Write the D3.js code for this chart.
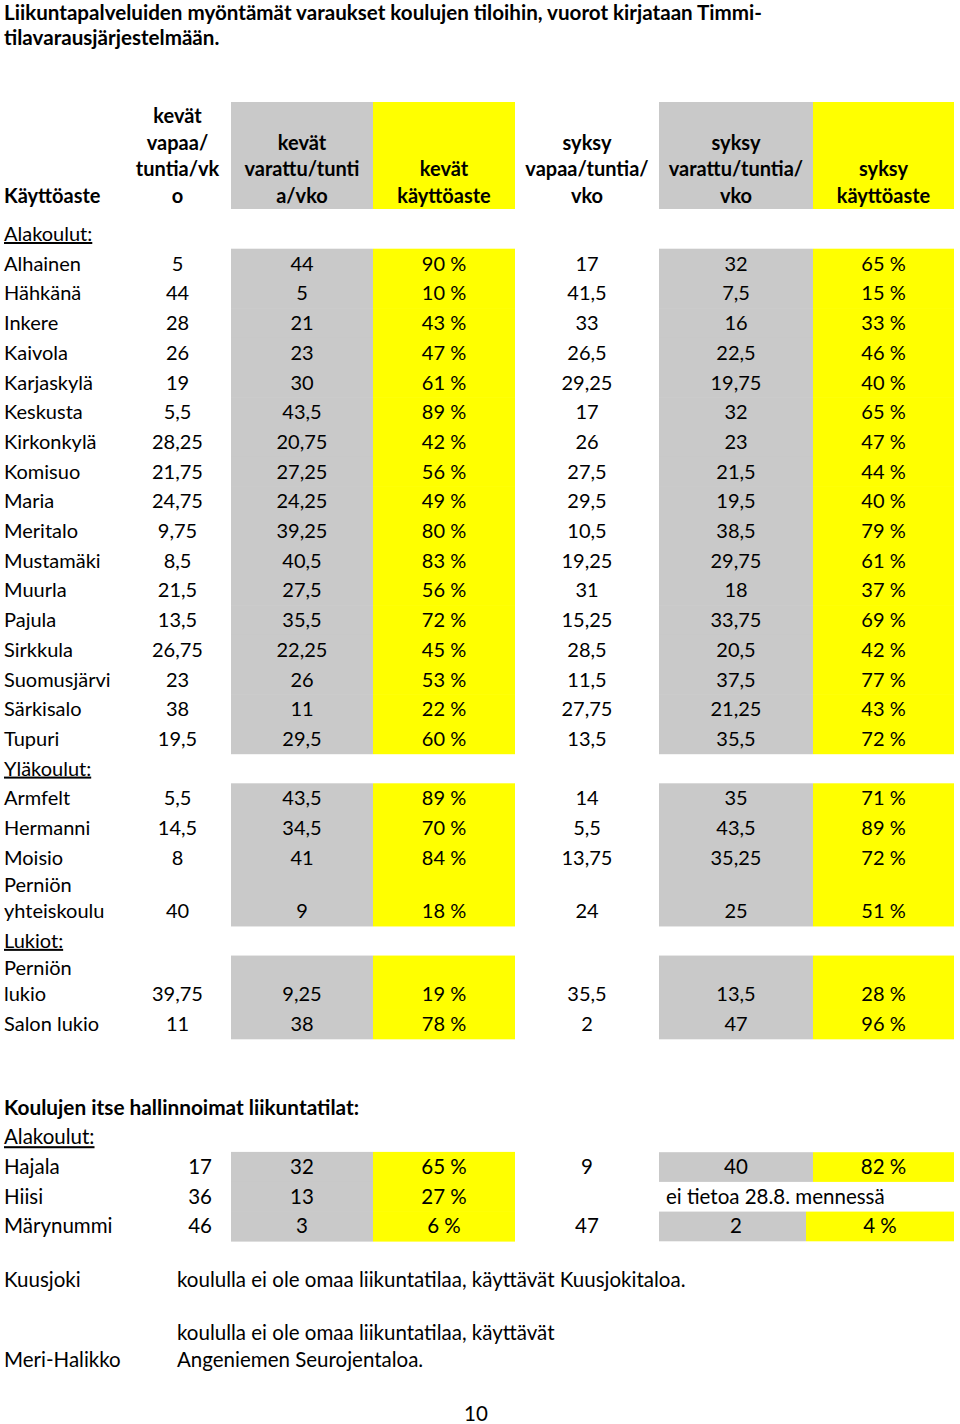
<!DOCTYPE html>
<html><head><meta charset="utf-8">
<script src="https://cdn.jsdelivr.net/npm/d3@7"></script>
<style>body{margin:0;background:#fff}svg{display:block}text{font-family:Lato,"Open Sans",sans-serif;fill:#000}</style>
</head><body><div id="c"></div>
<script>
const title = ["Liikuntapalveluiden myöntämät varaukset koulujen tiloihin, vuorot kirjataan Timmi-","tilavarausjärjestelmään."];
const headers = [["Käyttöaste"],["kevät","vapaa/","tuntia/vk","o"],["kevät","varattu/tunti","a/vko"],["kevät","käyttöaste"],["syksy","vapaa/tuntia/","vko"],["syksy","varattu/tuntia/","vko"],["syksy","käyttöaste"]];
// rows: group label rows have null values
const rowLabels = ["Alakoulut:","Alhainen","Hähkänä","Inkere","Kaivola","Karjaskylä","Keskusta","Kirkonkylä","Komisuo","Maria","Meritalo","Mustamäki","Muurla","Pajula","Sirkkula","Suomusjärvi","Särkisalo","Tupuri","Yläkoulut:","Armfelt","Hermanni","Moisio","Perniön\nyhteiskoulu","Lukiot:","Perniön\nlukio","Salon lukio"];
const kevatVapaa   = [null,5,44,28,26,19,5.5,28.25,21.75,24.75,9.75,8.5,21.5,13.5,26.75,23,38,19.5,null,5.5,14.5,8,40,null,39.75,11];
const kevatVarattu = [null,44,5,21,23,30,43.5,20.75,27.25,24.25,39.25,40.5,27.5,35.5,22.25,26,11,29.5,null,43.5,34.5,41,9,null,9.25,38];
const kevatKaytto  = [null,90,10,43,47,61,89,42,56,49,80,83,56,72,45,53,22,60,null,89,70,84,18,null,19,78];
const syksyVapaa   = [null,17,41.5,33,26.5,29.25,17,26,27.5,29.5,10.5,19.25,31,15.25,28.5,11.5,27.75,13.5,null,14,5.5,13.75,24,null,35.5,2];
const syksyVarattu = [null,32,7.5,16,22.5,19.75,32,23,21.5,19.5,38.5,29.75,18,33.75,20.5,37.5,21.25,35.5,null,35,43.5,35.25,25,null,13.5,47];
const syksyKaytto  = [null,65,15,33,46,40,65,47,44,40,79,61,37,69,42,77,43,72,null,71,89,72,51,null,28,96];

const section2Title = "Koulujen itse hallinnoimat liikuntatilat:";
const s2Labels = ["Alakoulut:","Hajala","Hiisi","Märynummi"];
const s2KevatVapaa = [null,17,36,46];
const s2KevatVarattu = [null,32,13,3];
const s2KevatKaytto = [null,65,27,6];
const s2SyksyVapaa = [null,9,null,47];
const s2SyksyVarattu = [null,40,null,2];
const s2SyksyKaytto = [null,82,null,4];
const s2Note = [null,null,"ei tietoa 28.8. mennessä",null];
const notes = [["Kuusjoki",["koululla ei ole omaa liikuntatilaa, käyttävät Kuusjokitaloa."]],["Meri-Halikko",["koululla ei ole omaa liikuntatilaa, käyttävät","Angeniemen Seurojentaloa."]]];
const pageNumber = "10";

const W=960,H=1424;
const svg=d3.select("#c").append("svg").attr("width",W).attr("height",H);
const loc=d3.formatLocale({decimal:",",thousands:" ",grouping:[3],currency:["","€"]});
const fmtNum=v=>v==null?"":loc.format(",.2~f")(v);
const fmtPct=v=>v==null?"":v+" %";

const cols=["label","kv","kva","kk","sv","sva","sk"];
const colLeft=d3.scaleOrdinal().domain(cols).range([0,124,231,373,515,659,813]);
const colRight=d3.scaleOrdinal().domain(cols).range([124,231,373,515,659,813,954]);
const colFill=d3.scaleOrdinal().domain(cols).range(["none","none","#c9c9c9","#ffff00","none","#c9c9c9","#ffff00"]);
const cx=c=>(colLeft(c)+colRight(c))/2;
const FS=20, FS2=20.5, LH=26.6;

// title
svg.selectAll("text.title").data(title).join("text").attr("class","title")
  .attr("x",4).attr("y",(d,i)=>20+i*25).attr("font-size",20.6).attr("font-weight","bold").text(d=>d);

// header
const hTop=102,hBot=209;
cols.forEach(c=>{ if(colFill(c)!=="none") svg.append("rect").attr("x",colLeft(c)).attr("y",hTop).attr("width",colRight(c)-colLeft(c)).attr("height",hBot-hTop).attr("fill",colFill(c)); });
headers.forEach((lines,ci)=>{
  const c=cols[ci]; const n=lines.length;
  lines.forEach((t,li)=>{
    svg.append("text").attr("x",ci===0?4:cx(c)).attr("y",hBot-6-(n-1-li)*LH).attr("text-anchor",ci===0?"start":"middle")
      .attr("font-size",FS).attr("font-weight","bold").text(t);
  });
});

// row layout
const units=rowLabels.map(l=>l.includes("\n")?1.8:1);
const cum=[0]; units.forEach(u=>cum.push(cum[cum.length-1]+u));
const y=d3.scaleLinear().domain([0,1]).range([219.3,249]);
const series={kv:kevatVapaa,kva:kevatVarattu,kk:kevatKaytto,sv:syksyVapaa,sva:syksyVarattu,sk:syksyKaytto};
rowLabels.forEach((lab,i)=>{
  const top=y(cum[i]),bot=y(cum[i+1]);
  const isGroup=kevatVapaa[i]==null;
  if(!isGroup){
    ["kva","kk","sva","sk"].forEach(c=>svg.append("rect").attr("x",colLeft(c)).attr("y",top-0.3).attr("width",colRight(c)-colLeft(c)).attr("height",bot-top+0.6).attr("fill",colFill(c)));
  }
});
rowLabels.forEach((lab,i)=>{
  const bot=y(cum[i+1]);
  const isGroup=kevatVapaa[i]==null;
  const lines=lab.split("\n");
  lines.forEach((t,li)=>{
    svg.append("text").attr("x",4).attr("y",bot-8-(lines.length-1-li)*LH).attr("font-size",FS)
      .attr("text-decoration",isGroup?"underline":null).text(t);
  });
  if(!isGroup){
    ["kv","kva","kk","sv","sva","sk"].forEach(c=>{
      const v=series[c][i];
      svg.append("text").attr("x",cx(c)).attr("y",bot-8).attr("text-anchor","middle").attr("font-size",FS)
        .text(c==="kk"||c==="sk"?fmtPct(v):fmtNum(v));
    });
  }
});

// section 2
const g2=svg.append("g");
g2.append("text").attr("x",4).attr("y",1115).attr("font-size",20.8).attr("font-weight","bold").text(section2Title);
const y2=d3.scaleLinear().domain([0,1]).range([1122.5,1152.2]);
const s2={kv:s2KevatVapaa,kva:s2KevatVarattu,kk:s2KevatKaytto,sv:s2SyksyVapaa,sva:s2SyksyVarattu,sk:s2SyksyKaytto};
s2Labels.forEach((lab,i)=>{
  const top=y2(i),bot=y2(i+1);
  if(i>0){
    ["kva","kk"].forEach(c=>g2.append("rect").attr("x",colLeft(c)).attr("y",top-0.3).attr("width",colRight(c)-colLeft(c)).attr("height",bot-top+0.6).attr("fill",colFill(c)));
    if(s2.sva[i]!=null){
      const split=i===3?806:813;
      g2.append("rect").attr("x",659).attr("y",top).attr("width",split-659).attr("height",bot-top).attr("fill","#c9c9c9");
      g2.append("rect").attr("x",split).attr("y",top).attr("width",954-split).attr("height",bot-top).attr("fill","#ffff00");
    }
  }
});
s2Labels.forEach((lab,i)=>{
  const bot=y2(i+1);
  g2.append("text").attr("x",4).attr("y",bot-8).attr("font-size",FS2).attr("text-decoration",i===0?"underline":null).text(lab);
  if(i===0) return;
  g2.append("text").attr("x",212).attr("y",bot-8).attr("text-anchor","end").attr("font-size",FS2).text(fmtNum(s2.kv[i]));
  ["kva","kk","sv","sva","sk"].forEach(c=>{
    const v=s2[c][i]; if(v==null) return;
    g2.append("text").attr("x",c==="sk"&&i===3?880:cx(c)).attr("y",bot-8).attr("text-anchor","middle").attr("font-size",FS2)
      .text(c==="kk"||c==="sk"?fmtPct(v):fmtNum(v));
  });
  if(s2Note[i]) g2.append("text").attr("x",666).attr("y",bot-8).attr("font-size",FS2).text(s2Note[i]);
});

// notes
const noteY=[1287,1367];
notes.forEach(([lab,lines],i)=>{
  svg.append("text").attr("x",4).attr("y",noteY[i]).attr("font-size",FS2).text(lab);
  lines.forEach((t,li)=>svg.append("text").attr("x",177).attr("y",noteY[i]-(lines.length-1-li)*27).attr("font-size",FS2).text(t));
});
svg.append("text").attr("x",476).attr("y",1421).attr("text-anchor","middle").attr("font-size",FS2).text(pageNumber);
</script></body></html>
